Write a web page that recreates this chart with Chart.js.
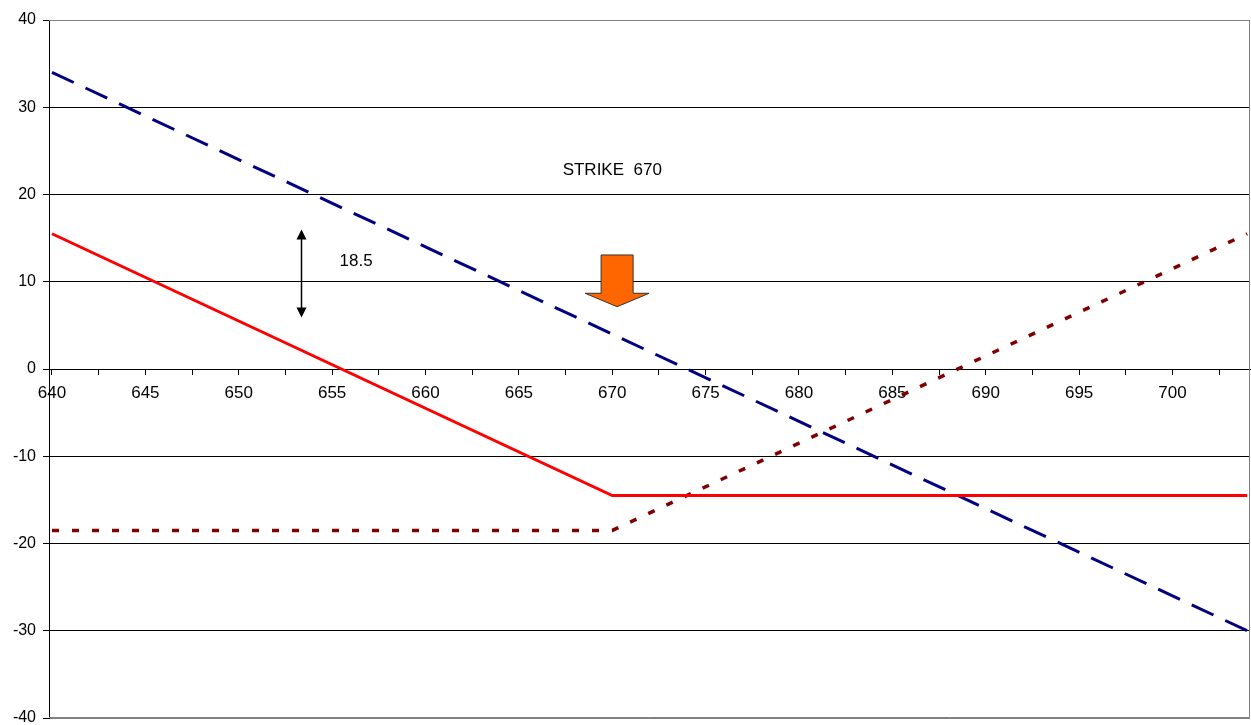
<!DOCTYPE html>
<html><head><meta charset="utf-8">
<script src="https://cdn.jsdelivr.net/npm/chart.js@4.4.0/dist/chart.umd.min.js"></script>
<style>html,body{margin:0;padding:0;background:#fff;overflow:hidden}#wrap{width:1251px;height:725px}</style>
</head><body><div id="wrap"><canvas id="c" width="1251" height="725"></canvas></div>
<script>
// ---- data ----
const underlyingPrices = [640, 670, 704];
const longPutPayoff    = [15.5, -14.5, -14.5];
const longCallPayoff   = [-18.5, -18.5, 15.5];
const shortFuturePayoff = [34, 4, -30];
const xTickLabels = [640, 645, 650, 655, 660, 665, 670, 675, 680, 685, 690, 695, 700];
const yTickLabels = [-40, -30, -20, -10, 0, 10, 20, 30, 40];
const strikeText = 'STRIKE  670';
const premiumText = '18.5';

const FONT = '"Liberation Sans", Arial, sans-serif';
const pts = vals => underlyingPrices.map((p, i) => ({x: p, y: vals[i]}));

const decor = {
  id: 'decor',
  afterDatasetsDraw(chart) {
    const {ctx, scales: {x, y}} = chart;
    ctx.save();
    // double-headed arrow
    const ax = Math.round(x.getPixelForValue(653.36)) + 0.5;
    const ay1 = y.getPixelForValue(16), ay2 = y.getPixelForValue(5.9);
    ctx.strokeStyle = '#000'; ctx.fillStyle = '#000'; ctx.lineWidth = 1.5;
    ctx.beginPath(); ctx.moveTo(ax, ay1 + 8); ctx.lineTo(ax, ay2 - 8); ctx.stroke();
    ctx.beginPath(); ctx.moveTo(ax, ay1); ctx.lineTo(ax - 5, ay1 + 10); ctx.lineTo(ax + 5, ay1 + 10); ctx.closePath(); ctx.fill();
    ctx.beginPath(); ctx.moveTo(ax, ay2); ctx.lineTo(ax - 5, ay2 - 10); ctx.lineTo(ax + 5, ay2 - 10); ctx.closePath(); ctx.fill();
    // orange block arrow
    const cx = x.getPixelForValue(670.26);
    const top = y.getPixelForValue(13.07), base = y.getPixelForValue(8.68), tip = y.getPixelForValue(7.14);
    ctx.beginPath();
    ctx.moveTo(cx - 16, top); ctx.lineTo(cx + 16, top); ctx.lineTo(cx + 16, base);
    ctx.lineTo(cx + 32, base); ctx.lineTo(cx, tip); ctx.lineTo(cx - 32, base);
    ctx.lineTo(cx - 16, base); ctx.closePath();
    ctx.fillStyle = '#FF6600'; ctx.fill();
    ctx.strokeStyle = '#333'; ctx.lineWidth = 1; ctx.stroke();
    // texts
    ctx.fillStyle = '#000';
    ctx.font = '17px ' + FONT;
    ctx.textBaseline = 'middle';
    ctx.textAlign = 'center';
    ctx.fillText(strikeText, x.getPixelForValue(670), y.getPixelForValue(22.8));
    ctx.textAlign = 'left';
    ctx.fillText(premiumText, x.getPixelForValue(655.4), y.getPixelForValue(12.3));
    ctx.restore();
  },
  afterDraw(chart) {
    const {ctx, chartArea: a} = chart;
    ctx.save();
    ctx.strokeStyle = '#808080'; ctx.lineWidth = 1;
    ctx.beginPath();
    ctx.moveTo(a.left, a.top + 0.5);
    ctx.lineTo(a.right - 0.5, a.top + 0.5);
    ctx.lineTo(a.right - 0.5, a.bottom - 0.5);
    ctx.lineTo(a.left, a.bottom - 0.5);
    ctx.stroke();
    ctx.restore();
  }
};

new Chart(document.getElementById('c'), {
  type: 'line',
  data: {
    datasets: [
      {label: 'Long put', data: pts(longPutPayoff), borderColor: '#FF0000', borderWidth: 3},
      {label: 'Long call', data: pts(longCallPayoff), borderColor: '#800000', borderWidth: 3.5, borderDash: [7, 13]},
      {label: 'Short future', data: pts(shortFuturePayoff), borderColor: '#000080', borderWidth: 3, borderDash: [24, 13]}
    ]
  },
  options: {
    responsive: false,
    animation: false,
    parsing: true,
    elements: {point: {radius: 0}, line: {tension: 0, borderCapStyle: 'butt', fill: false}},
    layout: {padding: {top: 20, bottom: 7, left: 0, right: 1}},
    plugins: {legend: {display: false}, tooltip: {enabled: false}},
    scales: {
      x: {
        type: 'linear', min: 639.84, max: 704.15, position: {y: 0},
        afterBuildTicks: s => {
          const t = [];
          xTickLabels.forEach(v => { t.push({value: v}); if (v + 2.5 < s.max) t.push({value: v + 2.5}); });
          s.ticks = t;
        },
        ticks: {
          autoSkip: false, maxRotation: 0, color: '#000', padding: 9,
          font: {family: FONT, size: 17},
          callback: v => xTickLabels.includes(v) ? String(v) : ''
        },
        grid: {drawOnChartArea: false, drawTicks: true, tickLength: 5, tickColor: '#000', lineWidth: 1},
        border: {display: true, color: '#000', width: 1}
      },
      y: {
        type: 'linear', min: -40, max: 40,
        afterBuildTicks: s => { s.ticks = yTickLabels.map(v => ({value: v})); },
        afterFit: s => { s.width = 49; s.paddingTop = 0; s.paddingBottom = 0; },
        ticks: {color: '#000', padding: 7, font: {family: FONT, size: 16}, callback: v => String(v)},
        grid: {
          color: c => (c.tick && Math.abs(c.tick.value) === 40) ? '#808080' : '#000',
          tickColor: '#000', tickLength: 6, lineWidth: 1
        },
        border: {display: true, color: '#000', width: 1}
      }
    }
  },
  plugins: [decor]
});
</script>
</body></html>
